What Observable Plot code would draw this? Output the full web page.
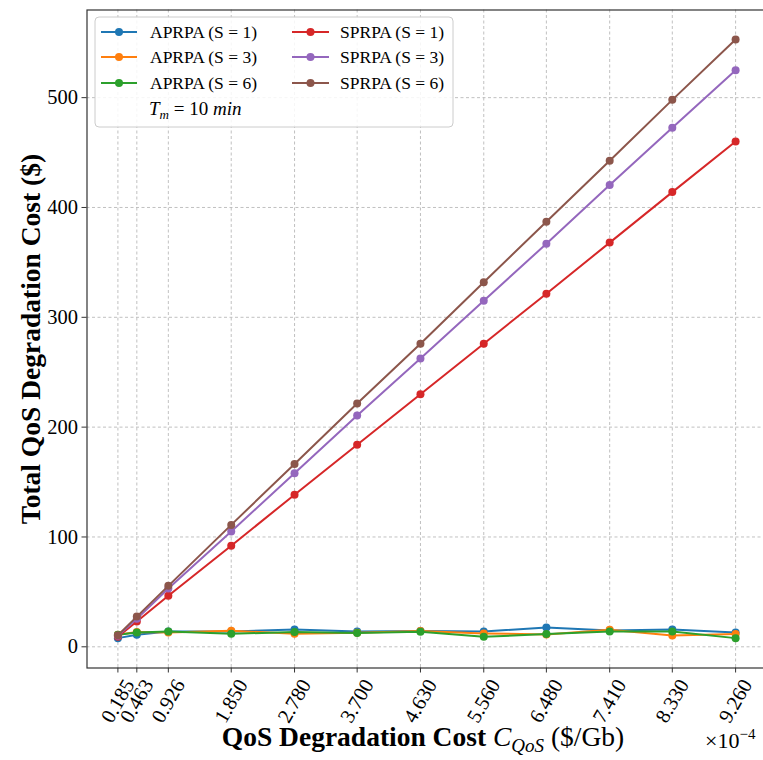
<!DOCTYPE html>
<html>
<head>
<meta charset="utf-8">
<script src="https://cdn.jsdelivr.net/npm/d3@7"></script>
<script src="https://cdn.jsdelivr.net/npm/@observablehq/plot@0.6"></script>
<style>
  html, body { margin: 0; padding: 0; background: #fff; overflow: hidden; }
  #chart { width: 763px; height: 760px; overflow: hidden; }
</style>
</head>
<body>
<div id="chart"></div>
<script>
// ---- data ----
const xVals = [0.185, 0.463, 0.926, 1.850, 2.780, 3.700, 4.630, 5.560, 6.480, 7.410, 8.330, 9.260];
const xTickLabels = ["0.185", "0.463", "0.926", "1.850", "2.780", "3.700", "4.630", "5.560", "6.480", "7.410", "8.330", "9.260"];
const yTicks = [0, 100, 200, 300, 400, 500];

const aprpaS1 = [7.9, 11.0, 14.0, 14.0, 15.8, 14.0, 14.3, 14.0, 17.6, 14.9, 15.8, 13.0];
const aprpaS3 = [11.0, 13.4, 13.0, 14.6, 11.9, 12.8, 14.3, 12.2, 11.3, 15.5, 10.3, 11.6];
const aprpaS6 = [11.0, 13.0, 14.0, 11.9, 13.4, 12.5, 13.7, 9.1, 11.6, 14.0, 14.0, 7.9];
const sprpaS1 = [9.2, 23.0, 46.5, 92.0, 138.5, 184.0, 230.0, 276.0, 321.5, 368.0, 414.0, 460.0];
const sprpaS3 = [10.0, 25.5, 53.0, 105.0, 158.0, 210.5, 262.5, 315.0, 367.0, 420.5, 472.5, 525.0];
const sprpaS6 = [10.5, 27.5, 55.5, 111.0, 166.5, 221.5, 276.0, 332.0, 387.0, 442.5, 498.0, 553.0];

const seriesNames = ["APRPA (S = 1)", "APRPA (S = 3)", "APRPA (S = 6)", "SPRPA (S = 1)", "SPRPA (S = 3)", "SPRPA (S = 6)"];
const seriesValues = [aprpaS1, aprpaS3, aprpaS6, sprpaS1, sprpaS3, sprpaS6];
const seriesColors = ["#1f77b4", "#ff7f0e", "#2ca02c", "#d62728", "#9467bd", "#8c564b"];

// ---- table ----
const rows = [];
seriesNames.forEach((name, s) => {
  xVals.forEach((x, i) => rows.push({series: name, x, y: seriesValues[s][i]}));
});

const FONT = "'Liberation Serif', 'DejaVu Serif', serif";
const gridStyle = {stroke: "#b0b0b0", strokeDasharray: "3,2.5", strokeWidth: 0.8};

const seriesMarks = seriesNames.flatMap((name, s) => {
  const data = rows.filter(r => r.series === name);
  return [
    Plot.line(data, {x: "x", y: "y", stroke: seriesColors[s], strokeWidth: 2}),
    Plot.dot(data, {x: "x", y: "y", fill: seriesColors[s], r: 4, stroke: "none"})
  ];
});

const chart = Plot.plot({
  width: 770,
  height: 760,
  marginLeft: 86.5,
  marginRight: 4,
  marginTop: 9.5,
  marginBottom: 92.5,
  style: {fontFamily: FONT, fontSize: "20px", color: "#000", background: "#fff", maxWidth: "none"},
  x: {domain: [-0.269, 9.714]},
  y: {domain: [-19.3, 579.8]},
  marks: [
    Plot.ruleX(xVals, {x: d => d, ...gridStyle}),
    Plot.ruleY(yTicks, {y: d => d, ...gridStyle}),
    ...seriesMarks,
    Plot.frame({stroke: "#333", strokeWidth: 1.2}),
    Plot.axisX({ticks: xVals, tickFormat: () => "", tickSize: 5, label: null, stroke: "#333"}),
    Plot.text(xVals, {
      x: d => d, text: (d, i) => xTickLabels[i],
      frameAnchor: "bottom", dy: 33, rotate: -60,
      textAnchor: "middle", lineAnchor: "middle", fontSize: 20.5, fill: "#000"
    }),
    Plot.axisY({ticks: yTicks, tickSize: 5, tickPadding: 4, label: null, fontSize: 20.5, stroke: "#333"}),
    Plot.text(["Total QoS Degradation Cost ($)"], {
      frameAnchor: "left", dx: -56, rotate: -90,
      textAnchor: "middle", lineAnchor: "middle",
      fontWeight: "bold", fontSize: 27.5, fill: "#000"
    })
  ]
});

document.getElementById("chart").appendChild(chart);

// ---- x-axis label with mixed styles & offset text ----
const svg = d3.select(chart);
const xl = svg.append("text")
  .attr("x", 423).attr("y", 746)
  .attr("text-anchor", "middle")
  .attr("font-family", FONT).attr("font-size", 27.5).attr("fill", "#000");
xl.append("tspan").attr("font-weight", "bold").text("QoS Degradation Cost ");
xl.append("tspan").attr("font-style", "italic").text("C");
xl.append("tspan").attr("font-style", "italic").attr("font-size", 19).attr("dy", 6).text("QoS");
xl.append("tspan").attr("dy", -6).text(" ($/Gb)");

const off = svg.append("text")
  .attr("x", 705).attr("y", 748)
  .attr("text-anchor", "start")
  .attr("font-family", FONT).attr("font-size", 22).attr("fill", "#000");
off.append("tspan").text("×10");
off.append("tspan").attr("font-size", 15).attr("dy", -9).text("−4");

// ---- legend ----
const lg = svg.append("g").attr("font-family", FONT).attr("font-size", 17.5).attr("text-anchor", "start");
lg.append("rect")
  .attr("x", 95).attr("y", 17).attr("width", 358).attr("height", 110)
  .attr("rx", 4).attr("fill", "#fff").attr("fill-opacity", 0.85)
  .attr("stroke", "#cccccc").attr("stroke-width", 1);
const colX = [{x1: 101, x2: 137, tx: 150}, {x1: 292, x2: 329, tx: 340}];
const rowY = [32, 57, 83];
seriesNames.forEach((name, s) => {
  const c = colX[Math.floor(s / 3)];
  const y = rowY[s % 3];
  lg.append("line").attr("x1", c.x1).attr("x2", c.x2).attr("y1", y).attr("y2", y)
    .attr("stroke", seriesColors[s]).attr("stroke-width", 2);
  lg.append("circle").attr("cx", (c.x1 + c.x2) / 2).attr("cy", y).attr("r", 4).attr("fill", seriesColors[s]);
  lg.append("text").attr("x", c.tx).attr("y", y).attr("dy", "0.35em").attr("fill", "#000").text(name);
});
const tm = lg.append("text").attr("x", 149).attr("y", 108).attr("dy", "0.35em").attr("fill", "#000").attr("font-size", 19);
tm.append("tspan").attr("font-style", "italic").text("T");
tm.append("tspan").attr("font-style", "italic").attr("font-size", 13).attr("dy", 4).text("m");
tm.append("tspan").attr("dy", -4).text(" = 10 ");
tm.append("tspan").attr("font-style", "italic").text("min");
</script>
</body>
</html>
